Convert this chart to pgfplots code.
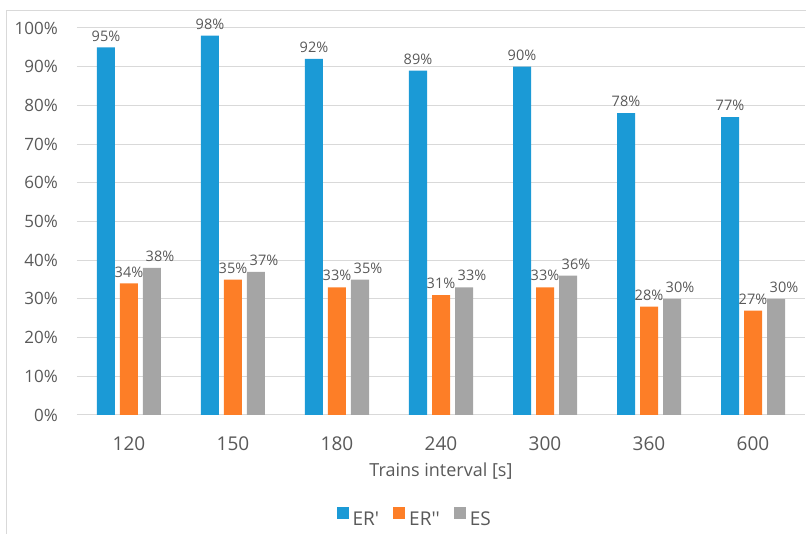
\documentclass[border=0pt]{standalone}
\usepackage{fontspec}
\setmainfont{Open Sans}
\usepackage{xcolor}
\usepackage{pgfplots}
\pgfplotsset{compat=1.18}

\definecolor{erone}{HTML}{1B9AD6}
\definecolor{ertwo}{HTML}{FD7E27}
\definecolor{esgray}{HTML}{A5A5A5}
\definecolor{txt}{HTML}{595959}
\definecolor{gridc}{HTML}{D9D9D9}

\begin{document}
\begin{tikzpicture}
\path[use as bounding box] (-77pt,-119pt) rectangle (729pt,415pt);
\draw[gridc, line width=1pt] (-70pt,-140pt) -- (-70pt,404pt) -- (760pt,404pt);
\begin{axis}[
  at={(0pt,0pt)}, anchor=south west,
  scale only axis,
  width=728pt, height=387pt,
  ybar=5pt,
  bar width=18pt,
  xmin=-0.5, xmax=6.5,
  ymin=0, ymax=100,
  enlargelimits=false,
  xtick={0,...,6},
  xticklabels={120,150,180,240,300,360,600},
  ytick={0,10,...,100},
  yticklabel={\pgfmathprintnumber{\tick}\%},
  /pgf/number format/assume math mode=true,
  axis x line*=bottom,
  axis y line*=left,
  x axis line style={draw=gridc, line width=1pt},
  y axis line style={draw=none},
  major tick length=0pt,
  ymajorgrids,
  grid style={draw=gridc, line width=1pt},
  xticklabel style={font=\fontsize{19}{22}\selectfont, text=txt, anchor=north, inner sep=0pt, yshift=-22pt},
  yticklabel style={font=\fontsize{17}{20}\selectfont, text=txt, anchor=east, inner sep=0pt, xshift=-19pt},
  xlabel={Trains interval [s]},
  xlabel style={font=\fontsize{18}{21}\selectfont, text=txt, at={(axis description cs:0.5,0)}, anchor=center, yshift=-56pt},
  nodes near coords={\pgfmathprintnumber[fixed,precision=0]{\pgfplotspointmeta}\%},
  every node near coord/.append style={font=\fontsize{14.5}{17}\selectfont, text=txt, inner sep=0pt, yshift=6pt},
  legend style={at={(axis description cs:0.464,0)}, anchor=center, yshift=-103pt, draw=none,
    font=\fontsize{19}{22}\selectfont, text=txt, legend columns=-1,
    /tikz/every odd column/.append style={column sep=2pt},
    /tikz/every even column/.append style={column sep=12pt}},
  legend image code/.code={\fill[#1] (0pt,0.5pt) rectangle (12pt,12.5pt);},
]
\addplot[fill=erone, draw=none] coordinates {(0,95) (1,98) (2,92) (3,89) (4,90) (5,78) (6,77)};
\addplot[fill=ertwo, draw=none] coordinates {(0,34) (1,35) (2,33) (3,31) (4,33) (5,28) (6,27)};
\addplot[fill=esgray, draw=none, every node near coord/.append style={xshift=8pt}] coordinates {(0,38) (1,37) (2,35) (3,33) (4,36) (5,30) (6,30)};
\legend{ER\textquotesingle, ER\textquotesingle\textquotesingle, ES}
\end{axis}
\end{tikzpicture}
\end{document}
